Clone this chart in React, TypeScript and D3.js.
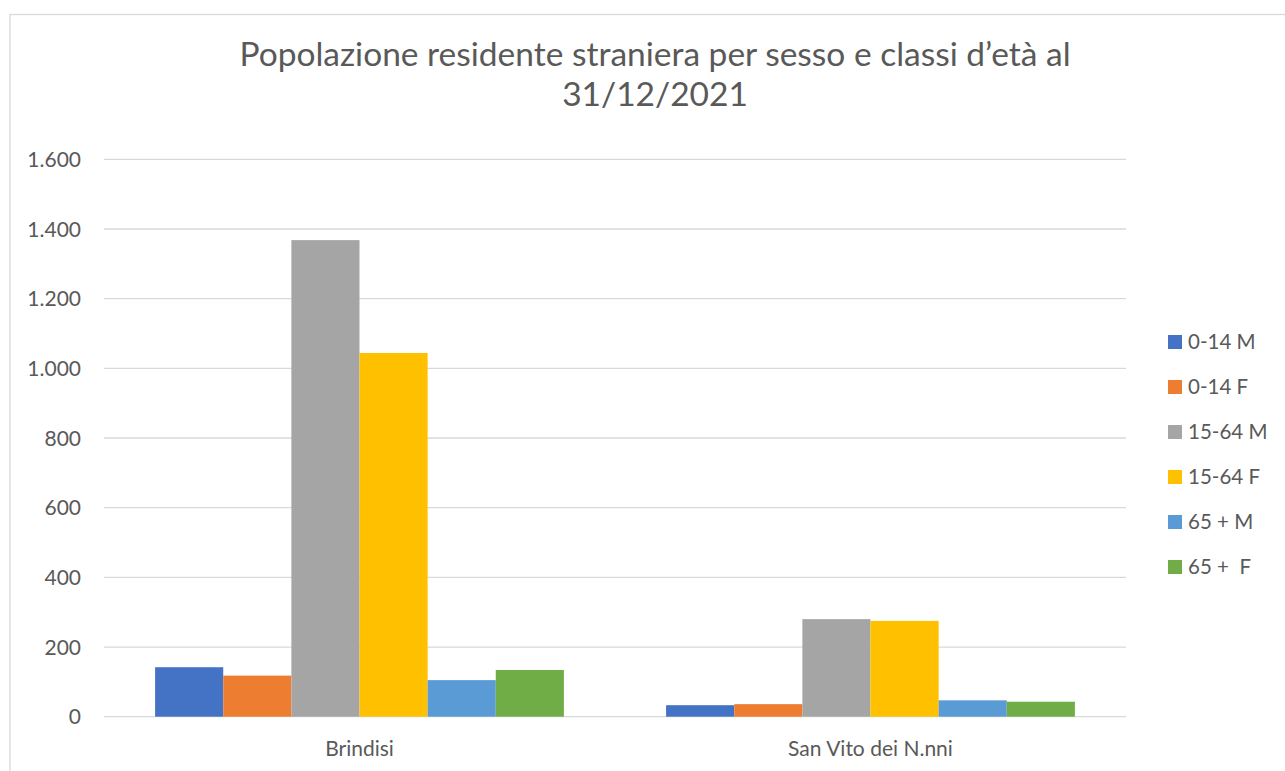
import React from "react";
import * as d3 from "d3";

const categories = ["Brindisi", "San Vito dei N.nni"];
const seriesNames = ["0-14 M", "0-14 F", "15-64 M", "15-64 F", "65 + M", "65 +  F"];
const seriesColors = ["#4472C4", "#ED7D31", "#A5A5A5", "#FFC000", "#5B9BD5", "#70AD47"];
const brindisiValues = [142, 118, 1368, 1044, 105, 134];
const sanVitoValues = [33, 36, 280, 275, 47, 43];
const yTicks = [0, 200, 400, 600, 800, 1000, 1200, 1400, 1600];
const titleLines = ["Popolazione residente straniera per sesso e classi d’età al", "31/12/2021"];

const values = [brindisiValues, sanVitoValues];

const W = 1285, H = 771;
const plot = { left: 104, right: 1126, top: 159.3, bottom: 716.7 };
const font = "Lato, 'Open Sans', sans-serif";
const textColor = "#595959";

export default function App() {
  const x0 = d3.scaleBand<string>().domain(categories).range([plot.left, plot.right]).paddingInner(0).paddingOuter(0);
  const groupW = x0.bandwidth() * 0.8;
  const x1 = d3.scaleBand<string>().domain(seriesNames).range([0, groupW]).padding(0);
  const y = d3.scaleLinear().domain([0, 1600]).range([plot.bottom, plot.top]);
  const fmtTick = (v: number) => (v >= 1000 ? d3.format(",")(v).replace(",", ".") : String(v));

  return (
    <svg width={W} height={H} style={{ position: "absolute", left: 0, top: 0, display: "block" }}>
      <rect x={0} y={0} width={W} height={H} fill="#fff" />
      <rect x={10} y={14.5} width={W + 10} height={H + 10} fill="#fff" stroke="#D9D9D9" strokeWidth={1.3} />
      {titleLines.map((t, i) => (
        <text key={i} x={655} y={66 + i * 40} textAnchor="middle" fontFamily={font} fontSize={33.5} fill={textColor}>
          {t}
        </text>
      ))}
      {yTicks.map((t) => (
        <g key={t}>
          <line x1={plot.left} x2={plot.right} y1={y(t)} y2={y(t)} stroke="#D9D9D9" strokeWidth={1.3} />
          <text x={81} y={y(t)} dy="0.36em" textAnchor="end" fontFamily={font} fontSize={21} fill={textColor}>
            {fmtTick(t)}
          </text>
        </g>
      ))}
      {categories.map((c, ci) => {
        const gx = (x0(c) as number) + (x0.bandwidth() - groupW) / 2;
        return (
          <g key={c}>
            {values[ci].map((v, si) => (
              <rect
                key={si}
                x={gx + (x1(seriesNames[si]) as number)}
                y={y(v)}
                width={x1.bandwidth()}
                height={y(0) - y(v)}
                fill={seriesColors[si]}
              />
            ))}
            <text x={(x0(c) as number) + x0.bandwidth() / 2} y={756} textAnchor="middle" fontFamily={font} fontSize={21} fill={textColor}>
              {c}
            </text>
          </g>
        );
      })}
      {seriesNames.map((s, i) => (
        <g key={s} transform={`translate(1168, ${342 + i * 45})`}>
          <rect x={0} y={-7} width={14} height={14} fill={seriesColors[i]} />
          <text x={20} y={0} dy="0.36em" fontFamily={font} fontSize={20.5} fill={textColor} style={{ whiteSpace: "pre" }}>
            {s}
          </text>
        </g>
      ))}
    </svg>
  );
}
